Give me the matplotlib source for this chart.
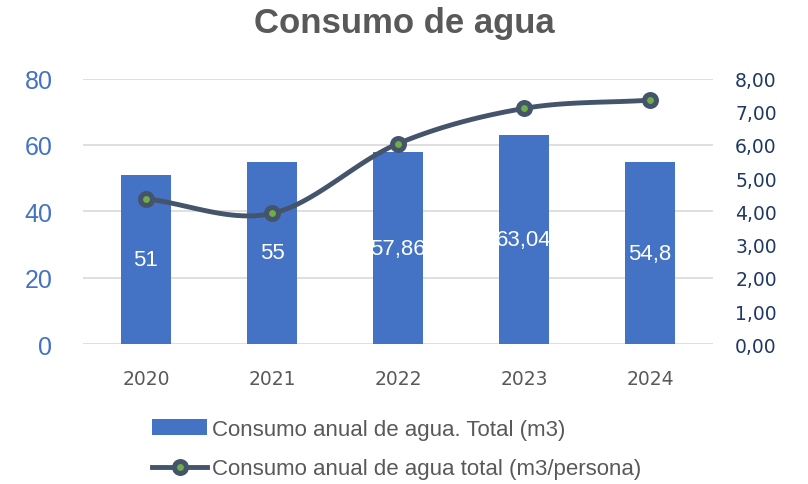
import numpy as np
import matplotlib
matplotlib.use('Agg')
import matplotlib.pyplot as plt
from matplotlib.lines import Line2D

years = ['2020', '2021', '2022', '2023', '2024']
total_m3 = [51, 55, 57.86, 63.04, 54.8]
total_labels = ['51', '55', '57,86', '63,04', '54,8']
per_person = [4.38, 3.94, 6.04, 7.10, 7.35]

blue = '#4472C4'
navy = '#44546A'
green = '#70AD47'
gray = '#595959'


def smooth(x, y, n=30):
    # Catmull-Rom like Excel "smoothed line"
    x = np.asarray(x, float)
    y = np.asarray(y, float)
    px = np.concatenate([[2 * x[0] - x[1]], x, [2 * x[-1] - x[-2]]])
    py = np.concatenate([[2 * y[0] - y[1]], y, [2 * y[-1] - y[-2]]])
    xs, ys = [], []
    for i in range(1, len(px) - 2):
        t = np.linspace(0, 1, n)
        for p, out in ((px, xs), (py, ys)):
            p0, p1, p2, p3 = p[i - 1], p[i], p[i + 1], p[i + 2]
            out.extend(0.5 * ((2 * p1) + (-p0 + p2) * t
                              + (2 * p0 - 5 * p1 + 4 * p2 - p3) * t ** 2
                              + (-p0 + 3 * p1 - 3 * p2 + p3) * t ** 3))
    return np.array(xs), np.array(ys)


fig = plt.figure(figsize=(8.08, 4.85), dpi=100)
ax = fig.add_axes([0.1027, 0.288, 0.7797, 0.548])
ax2 = ax.twinx()

x = np.arange(len(years))
bars = ax.bar(x, total_m3, width=0.4, color=blue, zorder=2)
for b, lab in zip(bars, total_labels):
    t = ax.text(b.get_x() + b.get_width() / 2, b.get_height() / 2, lab,
                ha='center', va='center', color='white', fontsize=16,
                family='Liberation Sans', zorder=3)
    t.set_clip_path(b)

sx, sy = smooth(x, per_person)
ax2.plot(sx, sy, color=navy, lw=3.5, solid_capstyle='round', zorder=4)
ax2.plot(x, per_person, ls='none', marker='o', ms=8.6, mfc=green, mec=navy,
         mew=3.6, zorder=5)

ax.set_xlim(-0.5, 4.5)
ax.set_ylim(0, 80)
ax2.set_ylim(0, 8)
ax.set_yticks([0, 20, 40, 60, 80])
ax2.set_yticks(np.arange(0, 9, 1))
ax2.set_yticklabels(['%d,00' % v for v in range(9)])
ax.set_xticks(x)
ax.set_xticklabels(years)

ax.grid(axis='y', color='#D9D9D9', lw=1.2, zorder=0)
for a in (ax, ax2):
    for s in a.spines.values():
        s.set_visible(False)
ax.tick_params(axis='y', length=0, pad=22, labelsize=18, labelcolor=blue)
ax.tick_params(axis='x', length=0, pad=18, labelsize=13.5, labelcolor=gray)
ax2.tick_params(axis='y', length=0, pad=16, labelsize=13.5, labelcolor='#203864')
for lab in ax.get_yticklabels():
    lab.set_family('Liberation Sans')
for lab in ax.get_xticklabels() + ax2.get_yticklabels():
    lab.set_family('DejaVu Sans')

fig.text(0.5, 0.952, 'Consumo de agua', ha='center', va='center',
         fontsize=25, fontweight='bold', color=gray, family='Liberation Sans')

line_handle = Line2D([], [], color=navy, lw=3.5, marker='o', ms=8.6, mfc=green,
                     mec=navy, mew=3.6)
fig.legend([bars, line_handle],
           ['Consumo anual de agua. Total (m3)',
            'Consumo anual de agua total (m3/persona)'],
           loc='upper left', bbox_to_anchor=(0.188, 0.135), frameon=False,
           handlelength=2.5, handletextpad=0.22, labelspacing=0.85,
           prop={'family': 'Liberation Sans', 'size': 16}, labelcolor=gray,
           borderaxespad=0, borderpad=0)

fig.savefig('out.png', dpi=100)
